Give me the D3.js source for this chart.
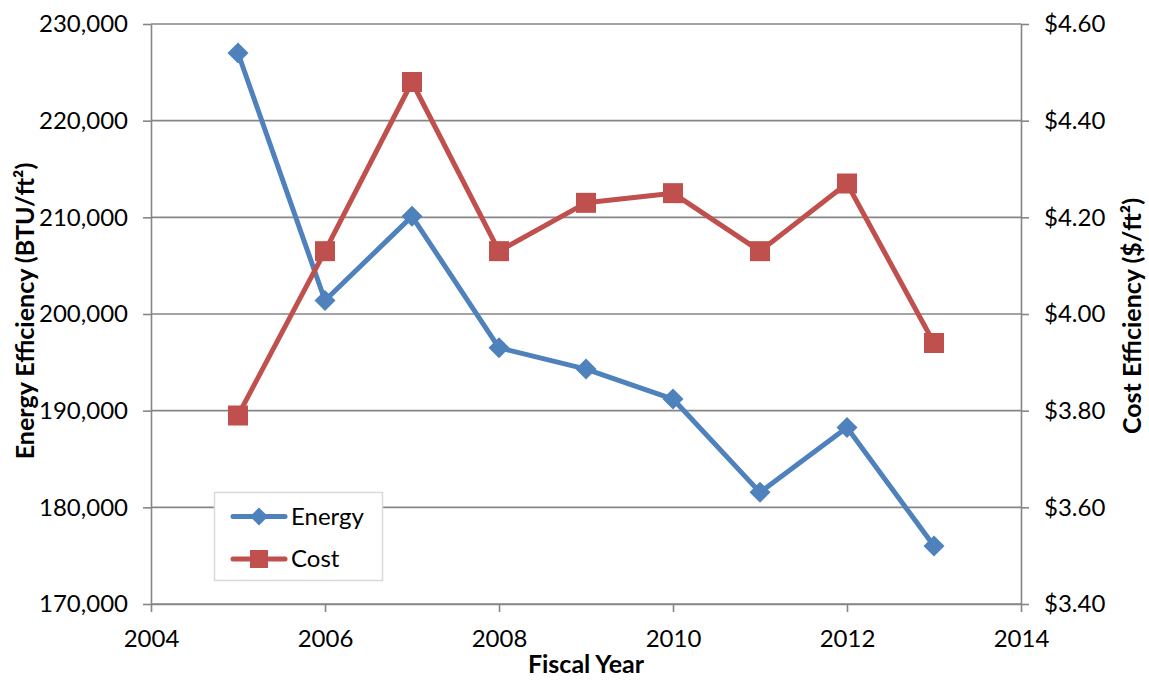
<!DOCTYPE html>
<html><head><meta charset="utf-8">
<script src="https://cdn.jsdelivr.net/npm/d3@7"></script>
<style>
body{margin:0;background:#fff;}
svg{display:block;font-family:Lato,"Open Sans",sans-serif;}
</style></head>
<body><svg id="c" width="1149" height="680"></svg>
<script>
const years = [2005,2006,2007,2008,2009,2010,2011,2012,2013];
const energy = [227000,201400,210100,196500,194300,191200,181550,188250,176000];
const cost = [3.79,4.13,4.48,4.13,4.23,4.25,4.13,4.27,3.94];
const xTicks = [2004,2006,2008,2010,2012,2014];
const yLeftTicks = [170000,180000,190000,200000,210000,220000,230000];
const yRightTicks = [3.4,3.6,3.8,4.0,4.2,4.4,4.6];
const seriesNames = ["Energy","Cost"];
const colors = ["#4F81BD","#C0504D"];

const L=151, R=1021, T=24, B=604;
const svg = d3.select("#c");
const x = d3.scaleLinear().domain([2004,2014]).range([L,R]);
const yL = d3.scaleLinear().domain([170000,230000]).range([B,T]);
const yR = d3.scaleLinear().domain([3.4,4.6]).range([B,T]);
const axisColor="#868686";

// gridlines
svg.append("g").selectAll("line").data(yLeftTicks).join("line")
  .attr("x1",L).attr("x2",R).attr("y1",d=>yL(d)).attr("y2",d=>yL(d))
  .attr("stroke",axisColor).attr("stroke-width",1.6);

function styleAxis(g){
  g.select(".domain").attr("stroke",axisColor).attr("stroke-width",1.6);
  g.selectAll(".tick line").attr("stroke",axisColor).attr("stroke-width",1.6);
  g.selectAll(".tick text").attr("fill","#000").style("font-size","24px").style("font-family","Lato");
}
const fmtL = d3.format(",");
svg.append("g").attr("transform",`translate(${L},0)`)
  .call(d3.axisLeft(yL).tickValues(yLeftTicks).tickFormat(fmtL).tickSize(8).tickSizeOuter(0).tickPadding(15))
  .call(styleAxis);
svg.append("g").attr("transform",`translate(${R},0)`)
  .call(d3.axisRight(yR).tickValues(yRightTicks).tickFormat(d=>"$"+d.toFixed(2)).tickSize(8).tickSizeOuter(0).tickPadding(15))
  .call(styleAxis);
svg.append("g").attr("transform",`translate(0,${B})`)
  .call(d3.axisBottom(x).tickValues(xTicks).tickFormat(d3.format("d")).tickSize(8).tickSizeOuter(0).tickPadding(18))
  .call(styleAxis);

// lines
const lineE = d3.line().x((d,i)=>x(years[i])).y(d=>yL(d));
const lineC = d3.line().x((d,i)=>x(years[i])).y(d=>yR(d));
svg.append("path").attr("d",lineE(energy)).attr("fill","none").attr("stroke",colors[0]).attr("stroke-width",5).attr("stroke-linejoin","round").attr("stroke-linecap","round");
svg.append("path").attr("d",lineC(cost)).attr("fill","none").attr("stroke",colors[1]).attr("stroke-width",5).attr("stroke-linejoin","round").attr("stroke-linecap","round");

const diamond = s=>`M0,${-s}L${s},0L0,${s}L${-s},0Z`;
svg.append("g").selectAll("path").data(energy).join("path")
  .attr("transform",(d,i)=>`translate(${x(years[i])},${yL(d)})`)
  .attr("d",diamond(10.5)).attr("fill",colors[0]);
svg.append("g").selectAll("rect").data(cost).join("rect")
  .attr("x",(d,i)=>x(years[i])-10).attr("y",d=>yR(d)-10).attr("width",20).attr("height",20)
  .attr("fill",colors[1]);

// axis titles
svg.append("text").attr("x",586).attr("y",673).attr("text-anchor","middle")
  .style("font-size","25px").style("font-weight","bold").text("Fiscal Year");
svg.append("text").attr("transform",`translate(34,311) rotate(-90)`).attr("text-anchor","middle")
  .style("font-size","25px").style("font-weight","bold").text("Energy Efficiency (BTU/ft²)");
svg.append("text").attr("transform",`translate(1141,316) rotate(-90)`).attr("text-anchor","middle")
  .style("font-size","25px").style("font-weight","bold").text("Cost Efficiency ($/ft²)");

// legend
const lg = svg.append("g");
lg.append("rect").attr("x",214.5).attr("y",492.5).attr("width",168).attr("height",88)
  .attr("fill","#fff").attr("stroke","#D9D9D9").attr("stroke-width",1.5);
const ly=[516.5,559];
seriesNames.forEach((n,i)=>{
  lg.append("line").attr("x1",233).attr("x2",285).attr("y1",ly[i]).attr("y2",ly[i])
    .attr("stroke",colors[i]).attr("stroke-width",5).attr("stroke-linecap","round");
  if(i===0) lg.append("path").attr("transform",`translate(259,${ly[i]})`).attr("d",diamond(9)).attr("fill",colors[0]);
  else lg.append("rect").attr("x",250).attr("y",ly[i]-9).attr("width",18).attr("height",18).attr("fill",colors[1]);
  lg.append("text").attr("x",291).attr("y",ly[i]+8).style("font-size","24px").text(n);
});
</script></body></html>
